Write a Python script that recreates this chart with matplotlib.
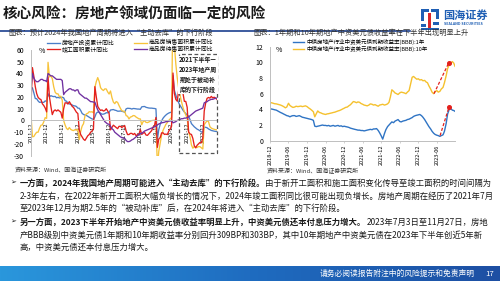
import numpy as np
import pandas as pd
import matplotlib
matplotlib.use('Agg')
import matplotlib.pyplot as plt
from matplotlib.patches import Rectangle
from matplotlib.lines import Line2D
from matplotlib.colors import LinearSegmentedColormap

plt.rcParams['font.family'] = ['Noto Sans CJK SC', 'DejaVu Sans']
plt.rcParams['axes.unicode_minus'] = False

W, H = 500, 281
INK = '#1a1a1a'
NAVY = '#1b3f8f'
BLUE = '#4a7ec8'
YELLOW = '#f7c33a'
RED = '#e4201c'
PURPLE = '#7030a0'


def fx(x):
    return x / W


def fy(y):
    return 1 - y / H


# ---------------- left chart data (cumulative yoy, %) ----------------
months = (['2011-12'] + [f'{y}-{m:02d}' for y in range(2012, 2023) for m in range(2, 13)]
          + [f'2023-{m:02d}' for m in range(2, 12)])

invest_yoy = [27.9,
              27.8, 23.5, 18.7, 18.5, 16.6, 15.4, 15.6, 15.4, 15.4, 16.7, 16.2,
              22.8, 20.2, 21.1, 20.6, 20.3, 20.5, 19.3, 19.7, 19.2, 19.5, 19.8,
              19.3, 16.8, 16.4, 14.7, 14.1, 13.7, 13.2, 12.5, 12.4, 11.9, 10.5,
              10.4, 8.5, 6.0, 5.1, 4.6, 4.3, 3.5, 2.6, 2.0, 1.3, 1.0,
              3.0, 6.2, 7.2, 7.0, 6.1, 5.3, 5.4, 5.8, 6.6, 6.5, 6.9,
              8.9, 9.1, 9.3, 8.8, 8.5, 7.9, 7.9, 8.1, 7.8, 7.5, 7.0,
              9.9, 10.4, 10.3, 10.2, 9.7, 10.2, 10.1, 9.9, 9.7, 9.7, 9.5,
              11.6, 11.8, 11.9, 11.2, 10.9, 10.6, 10.5, 10.5, 10.3, 10.2, 9.9,
              -16.3, -7.7, -3.3, -0.3, 1.9, 3.4, 4.6, 5.6, 6.3, 6.8, 7.0,
              38.3, 25.6, 21.6, 18.3, 15.0, 12.7, 10.9, 8.8, 7.2, 6.0, 4.4,
              3.7, 0.7, -2.7, -4.0, -5.4, -6.4, -7.4, -8.0, -8.8, -9.8, -10.0,
              -5.7, -5.8, -6.2, -7.2, -7.9, -8.5, -8.8, -9.1, -9.3, -9.4]

sales_yoy = [4.4,
             -13.9, -13.6, -11.6, -10.0, -10.0, -6.6, -4.1, -3.8, -1.1, 2.4, 1.8,
             49.5, 37.1, 38.0, 35.6, 28.7, 24.1, 22.7, 22.7, 20.3, 20.6, 17.3,
             -0.1, -3.8, -6.7, -7.8, -6.0, -7.6, -8.3, -8.6, -7.8, -8.2, -7.6,
             -16.3, -9.2, -4.8, -2.7, 3.9, 5.6, 6.1, 7.5, 7.2, 7.4, 6.5,
             28.2, 33.1, 36.5, 33.2, 27.9, 26.4, 25.5, 26.9, 26.8, 24.3, 22.5,
             25.1, 19.5, 15.7, 14.3, 16.1, 15.4, 12.7, 10.3, 8.2, 7.9, 7.7,
             4.1, 3.6, 1.3, 2.9, 3.3, 4.2, 4.0, 2.9, 2.2, 1.4, 1.3,
             -3.6, -0.9, -0.3, -1.6, -1.8, -1.3, -0.6, -0.1, 0.1, 0.2, -0.1,
             -39.9, -26.3, -19.3, -12.3, -8.4, -5.8, -3.3, -1.8, 0.0, 1.3, 2.6,
             104.9, 63.8, 48.1, 36.3, 27.7, 21.5, 15.9, 11.3, 7.5, 4.8, 1.9,
             -9.6, -13.8, -20.9, -23.6, -22.2, -23.1, -23.0, -22.2, -22.3, -23.3, -24.3,
             -3.6, -1.8, -0.4, -0.9, -5.3, -6.5, -7.1, -7.5, -7.8, -8.0]

completed_yoy = [13.3,
                 45.0, 37.6, 28.9, 22.9, 19.7, 18.4, 17.8, 14.2, 12.7, 10.6, 7.3,
                 37.0, 20.0, 12.0, 5.0, 8.0, 9.0, 8.0, 9.0, 8.0, 7.0, 2.0,
                 10.0, 15.0, 15.0, 14.0, 16.0, 14.0, 12.0, 11.0, 9.0, 7.0, 5.9,
                 -8.0, -12.0, -14.0, -16.0, -17.0, -15.0, -13.0, -12.0, -10.0, -9.0, -6.9,
                 28.8, 20.0, 12.0, 10.0, 8.5, 9.0, 8.0, 8.5, 10.0, 8.0, 6.1,
                 -8.0, -6.0, -4.0, -5.0, -6.0, -7.0, -5.0, -5.0, -6.0, -5.0, -4.4,
                 -9.0, -12.0, -12.0, -11.0, -11.0, -12.0, -11.0, -13.0, -12.0, -12.0, -7.8,
                 -11.9, -10.8, -10.3, -12.4, -12.7, -11.3, -10.0, -8.6, -5.5, -4.5, 2.6,
                 -22.9, -15.8, -14.5, -10.6, -10.5, -11.9, -11.6, -12.0, -9.2, -7.3, -4.9,
                 40.4, 22.9, 17.9, 16.4, 25.7, 25.7, 26.0, 23.4, 16.3, 16.2, 11.2,
                 -9.8, -11.5, -11.9, -15.3, -21.5, -23.3, -21.1, -19.9, -18.7, -19.0, -15.0,
                 8.0, 14.7, 18.8, 19.6, 19.0, 20.5, 19.2, 19.8, 19.0, 17.9]

unsold_yoy = [27.0,
              40.0, 36.0, 34.0, 33.0, 33.0, 34.0, 35.0, 35.0, 34.0, 34.0, 33.0,
              40.0, 39.0, 38.0, 38.0, 37.0, 36.0, 35.0, 35.0, 35.0, 35.0, 34.0,
              22.0, 24.0, 25.0, 26.0, 27.0, 27.0, 26.0, 26.0, 25.0, 26.0, 26.1,
              23.0, 22.0, 21.0, 20.0, 19.0, 19.0, 18.0, 17.0, 16.0, 16.0, 15.6,
              15.6, 12.0, 9.0, 7.0, 5.0, 3.0, 1.0, -1.0, -2.0, -3.0, -3.2,
              -5.0, -7.0, -8.0, -10.0, -11.0, -12.0, -13.0, -14.0, -14.5, -15.0, -15.3,
              -17.0, -18.0, -18.0, -17.5, -16.5, -16.0, -15.0, -14.0, -13.0, -12.0, -11.0,
              -11.0, -10.0, -9.0, -8.5, -8.0, -7.5, -7.0, -6.5, -6.0, -5.5, -4.9,
              -3.8, -3.0, -2.5, -2.0, -1.8, -1.5, -1.0, -1.0, -0.5, -0.5, 0.0,
              -2.0, -1.5, -1.0, 0.0, 0.5, 1.0, 1.5, 1.5, 2.0, 2.0, 2.4,
              3.0, 4.0, 5.0, 6.0, 7.0, 8.0, 8.5, 9.0, 9.5, 10.0, 10.5,
              15.0, 15.6, 16.0, 17.0, 17.5, 18.0, 18.0, 18.5, 19.0, 19.0]

left_names = ['房地产投资累计同比', '商品房销售面积累计同比', '竣工面积累计同比', '商品房待售面积累计同比']
box_note = '2021下半年—\n2023年地产周\n期处于被动补\n库的下行阶段'
box_start = '2021-07'

# ---------------- right chart data (BBB yield, %) ----------------
yield_dates = list(pd.date_range('2018-12-01', periods=120, freq='SMS')) + [pd.Timestamp('2023-11-27')]

yield_1y = [4.05, 4.05, 4.00, 3.95, 3.90, 3.80, 3.70, 3.60, 3.50, 3.40, 3.30, 3.20,
            3.15, 3.05, 3.15, 3.20, 3.20, 3.10, 3.15, 3.20, 3.10, 3.00, 2.95, 2.90,
            2.85, 2.80, 2.75, 2.70, 2.60, 1.85, 1.80, 1.85, 1.90, 1.95, 2.00, 1.95,
            1.95, 1.90, 1.95, 1.85, 1.90, 1.95, 1.85, 1.90, 1.95, 1.85, 1.90, 1.80,
            1.85, 1.80, 1.75, 1.70, 1.60, 1.55, 1.50, 1.45, 1.40, 1.35, 1.35, 1.30,
            1.30, 1.25, 1.30, 1.35, 1.40, 1.45, 1.40, 1.50, 1.50, 1.55, 1.30, 1.00,
            0.60, 0.20, 0.90, 1.40, 1.80, 2.00, 2.20, 2.40, 2.30, 2.50, 2.60, 2.70,
            2.45, 2.40, 2.50, 2.55, 2.60, 2.70, 2.75, 2.85, 2.95, 3.10, 3.20, 3.25,
            3.30, 3.35, 3.20, 3.00, 2.70, 2.40, 2.10, 1.80, 1.50, 1.20, 0.95, 0.80,
            0.70, 0.65, 0.55, 0.65, 0.75, 1.20, 2.20, 3.40, 4.00, 4.10, 3.90, 3.85,
            3.75]

yield_10y = [4.80, 4.85, 4.78, 4.72, 4.70, 4.65, 4.60, 4.55, 4.45, 4.35, 4.20, 4.30,
             4.78, 4.50, 4.35, 4.25, 4.30, 4.40, 4.35, 4.38, 4.42, 4.35, 4.40, 4.45,
             4.35, 4.20, 4.05, 3.90, 3.70, 3.05, 3.45, 3.80, 3.60, 3.55, 3.45, 3.40,
             3.35, 3.42, 3.45, 3.50, 3.55, 3.60, 3.65, 3.72, 3.80, 3.85, 3.95, 4.05,
             4.15, 4.25, 4.30, 4.45, 4.60, 4.80, 5.00, 4.95, 4.85, 4.95, 4.90, 4.75,
             4.65, 4.55, 4.50, 4.45, 4.55, 4.70, 4.65, 4.55, 4.60, 4.50, 4.40, 4.55,
             4.60, 4.65, 4.55, 4.60, 4.70, 4.90, 5.60, 6.50, 6.30, 6.10, 6.00, 5.90,
             6.10, 6.20, 6.15, 6.10, 6.00, 6.20, 6.40, 7.20, 8.10, 8.20, 8.00, 7.85,
             7.90, 7.75, 7.80, 7.65, 7.70, 7.50, 7.40, 7.00, 6.60, 6.20, 6.00, 6.25,
             6.40, 6.20, 6.30, 6.60, 6.80, 7.40, 8.30, 9.20, 9.70, 9.90, 10.10, 9.90,
             9.50]

right_names = ['中债房地产行业中资美元债到期收益率(BBB):1年', '中债房地产行业中资美元债到期收益率(BBB):10年']
# red dashed arrows: (start date, start value, end date, end value)
rise_1y = ('2023-07-03', 0.65, '2023-09-28', 4.25)
rise_10y = ('2023-05-04', 6.0, '2023-09-25', 9.9)
right_ticks = pd.date_range('2018-12-01', '2023-06-01', freq='6MS')

fig = plt.figure(figsize=(5, 2.81), dpi=100)
fig.patch.set_facecolor('white')

# ---------------- header ----------------
fig.text(fx(3), fy(14), '核心风险：房地产领域仍面临一定的风险', fontsize=10.5, weight='bold',
         color=INK, va='center', ha='left')
fig.add_artist(Line2D([0, fx(410)], [fy(31), fy(31)], color=NAVY, lw=1.2))
# logo
for (x0, y0, w, h, c) in [(421, 9, 3, 12, '#1f5fb4'), (421, 9, 8, 3, '#1f5fb4'),
                          (431, 9, 8, 3, '#1f5fb4'), (436, 9, 3, 10, '#1f5fb4'),
                          (428, 13, 3, 16, '#d8262b'), (421, 24, 5, 3, '#1f5fb4'),
                          (433, 22, 6, 3, '#1f5fb4'), (421, 28, 18, 2, '#1f5fb4')]:
    fig.add_artist(Rectangle((fx(x0), fy(y0 + h)), w / W, h / H, color=c, lw=0))
fig.text(fx(443), fy(15), '国海证券', fontsize=8, weight='bold', color='#1f5fb4', va='center')
fig.text(fx(444), fy(24), 'SEALAND SECURITIES', fontsize=2.6, weight='bold', color='#1f5fb4', va='center')

fig.text(fx(8), fy(33), '图表：预计2024年我国地产周期将进入“主动去库”的下行阶段', fontsize=5.2,
         color='#333333', va='center')
fig.text(fx(253), fy(33), '图表：1年期和10年期地产中资美元债收益率在下半年出现明显上升', fontsize=5.2,
         color='#333333', va='center')
fig.text(fx(15), fy(170), '资料来源：Wind、国海证券研究所', fontsize=4.3, color='#333333', va='center')
fig.text(fx(267), fy(171), '资料来源：Wind、国海证券研究所', fontsize=4.3, color='#333333', va='center')

# ---------------- left chart ----------------
ax1 = fig.add_axes([fx(31), fy(155.7), 186 / W, 105.7 / H])
ax1.spines['bottom'].set_position(('data', 0))
xi = np.arange(len(months))
l_inv, = ax1.plot(xi, invest_yoy, color=BLUE, lw=0.95)
l_sal, = ax1.plot(xi, sales_yoy, color=YELLOW, lw=0.95)
l_com, = ax1.plot(xi, completed_yoy, color=RED, lw=0.95)
l_uns, = ax1.plot(xi, unsold_yoy, color=PURPLE, lw=0.95)
ax1.set_xlim(0, len(months) - 1)
ax1.set_ylim(-30, 60)
ax1.set_yticks(np.arange(-30, 61, 10))
tick_idx = [i for i, m in enumerate(months) if m.endswith('-12')]
ax1.set_xticks(tick_idx)
ax1.set_xticklabels([months[i] for i in tick_idx])
for s in ['top', 'right']:
    ax1.spines[s].set_visible(False)
for s in ['left', 'bottom']:
    ax1.spines[s].set_color('#bfbfbf')
    ax1.spines[s].set_linewidth(0.7)
ax1.tick_params(axis='y', labelsize=5, length=0, pad=5)
ax1.tick_params(axis='x', length=0, pad=1.5, labelsize=4, labelrotation=90)
ax1.text(8, 59, '%', fontsize=5, va='center', ha='center')
bx = months.index(box_start) - 1
ax1.add_patch(Rectangle((bx, -27.5), len(months) - 1 - bx, 84.3, fill=False, ls=(0, (3, 2)),
                        ec='#555555', lw=0.9, clip_on=False, zorder=5))
ax1.text((bx + len(months) - 1) / 2, 54.5, box_note, ha='center', va='top', fontsize=4.3,
         weight='bold', color=INK, linespacing=1.45, zorder=6,
         bbox=dict(fc='white', ec='none', pad=0.6))
ax1.legend([l_inv, l_com, l_sal, l_uns], [left_names[0], left_names[2], left_names[1], left_names[3]],
           ncol=2, loc='upper left', bbox_to_anchor=(fx(47), fy(39.3)), bbox_transform=fig.transFigure,
           frameon=False, fontsize=4.2, handlelength=2.2, handletextpad=0.4, columnspacing=3.2,
           labelspacing=0.1, borderpad=0, borderaxespad=0)

# ---------------- right chart ----------------
ax2 = fig.add_axes([fx(270), fy(140.7), 185 / W, 94 / H])
l1, = ax2.plot(yield_dates, yield_1y, color='#2f74c4', lw=1.0)
l10, = ax2.plot(yield_dates, yield_10y, color='#f5c12e', lw=1.0)
for s0, v0, s1, v1 in [rise_1y, rise_10y]:
    t0, t1 = pd.Timestamp(s0), pd.Timestamp(s1)
    ax2.plot([t0, t1], [v0, v1], ls=(0, (2.5, 1.5)), color=RED, lw=0.9, zorder=4)
    ax2.plot([t1], [v1], marker='o', ms=2.6, color=RED, zorder=5)
ax2.set_xlim(yield_dates[0], yield_dates[-1])
ax2.set_ylim(0, 12)
ax2.set_yticks(np.arange(0, 13, 2))
ax2.set_xticks(right_ticks)
ax2.set_xticklabels([d.strftime('%Y-%m') for d in right_ticks])
for s in ['top', 'right']:
    ax2.spines[s].set_visible(False)
for s in ['left', 'bottom']:
    ax2.spines[s].set_color('#bfbfbf')
    ax2.spines[s].set_linewidth(0.7)
ax2.tick_params(axis='y', labelsize=5, length=0, pad=5)
ax2.tick_params(axis='x', length=1.5, width=0.5, color='#bfbfbf', pad=1.5, labelsize=4, labelrotation=90)
ax2.text(0.05, 0.96, '%', transform=ax2.transAxes, fontsize=5, va='center', ha='center')
ax2.legend([l1, l10], right_names, loc='upper left', bbox_to_anchor=(fx(293), fy(39.3)),
           bbox_transform=fig.transFigure, frameon=False, fontsize=4.0, handlelength=2.0,
           handletextpad=0.4, labelspacing=0.1, borderpad=0, borderaxespad=0)

# ---------------- bullet text ----------------
renderer = fig.canvas.get_renderer()


def rich_line(x, y, parts, size=6):
    xf = fx(x)
    for txt, wt in parts:
        t = fig.text(xf, fy(y), txt, fontsize=size, weight=wt, color=INK, va='center', ha='left')
        bb = t.get_window_extent(renderer)
        xf = bb.x1 / fig.bbox.width


lines = [
    (183, [('一方面，2024年我国地产周期可能进入“主动去库”的下行阶段。', 'bold'),
           ('由于新开工面积和施工面积变化传导至竣工面积的时间间隔为', 'normal')], True),
    (196, [('2-3年左右，在2022年新开工面积大幅负增长的情况下，2024年竣工面积同比很可能出现负增长。房地产周期在经历了2021年7月', 'normal')], False),
    (208, [('至2023年12月为期2.5年的“被动补库”后，在2024年将进入“主动去库”的下行阶段。', 'normal')], False),
    (222, [('另一方面，2023下半年开始地产中资美元债收益率明显上升，中资美元债还本付息压力增大。', 'bold'),
           ('2023年7月3日至11月27日，房地', 'normal')], True),
    (235, [('产BBB级别中资美元债1年期和10年期收益率分别回升309BP和303BP，其中10年期地产中资美元债在2023年下半年创近5年新', 'normal')], False),
    (247, [('高，中资美元债还本付息压力增大。', 'normal')], False),
]
for y, parts, bullet in lines:
    if bullet:
        fig.text(fx(10), fy(y), '➢', fontsize=5, color=INK, va='center', ha='left',
                 family=['DejaVu Sans'])
    rich_line(20, y, parts)

# ---------------- footer ----------------
axf = fig.add_axes([0, 0, 1, 15 / H])
band = LinearSegmentedColormap.from_list('band', ['#2a97dc', '#1f6cc0', '#1d4fa3'])
axf.imshow(np.linspace(0, 1, 256)[None, :], cmap=band, aspect='auto', extent=[0, 1, 0, 1])
axf.set_axis_off()
fig.text(fx(475), fy(274), '请务必阅读报告附注中的风险提示和免责声明', fontsize=5.6, color='white',
         va='center', ha='right')
fig.text(fx(490), fy(274), '17', fontsize=5.6, color='white', va='center', ha='center')

fig.savefig('out.png', dpi=100)
